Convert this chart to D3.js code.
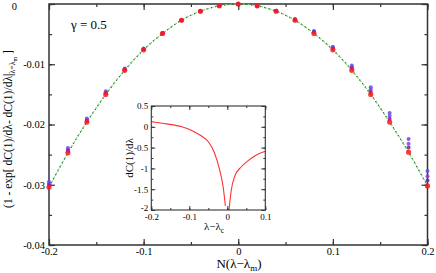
<!DOCTYPE html>
<html><head><meta charset="utf-8">
<script src="https://cdn.jsdelivr.net/npm/d3@7"></script>
<style>
body{margin:0;background:#fff;}
svg{display:block;}
svg text{font-family:"Liberation Serif","Times New Roman",serif;}
</style></head>
<body>
<script>
// ---- data ----
const xVals = [-0.20,-0.18,-0.16,-0.14,-0.12,-0.10,-0.08,-0.06,-0.04,-0.02,0,0.02,0.04,0.06,0.08,0.10,0.12,0.14,0.16,0.18,0.20];
const seriesRed = [-0.0304,-0.0247,-0.0196,-0.0150,-0.0110,-0.0076,-0.0049,-0.0027,-0.0012,-0.0003,0,-0.0003,-0.0012,-0.0027,-0.0049,-0.0076,-0.0110,-0.0150,-0.0196,-0.0246,-0.0302];
const seriesA = [-0.0295,-0.0239,-0.0190,-0.0145,-0.0107,-0.0074,-0.0048,-0.0027,-0.0012,-0.0003,0,-0.0003,-0.0011,-0.0025,-0.0045,-0.0071,-0.0102,-0.0138,-0.0181,-0.0224,-0.0277];
const seriesB = [-0.0298,-0.0242,-0.0192,-0.0147,-0.0108,-0.0075,-0.0048,-0.0027,-0.0012,-0.0003,0,-0.0003,-0.0011,-0.0026,-0.0046,-0.0073,-0.0105,-0.0142,-0.0186,-0.0232,-0.0286];
const seriesC = [-0.0301,-0.0244,-0.0194,-0.0148,-0.0109,-0.0075,-0.0049,-0.0027,-0.0012,-0.0003,0,-0.0003,-0.0012,-0.0026,-0.0047,-0.0074,-0.0107,-0.0146,-0.0191,-0.0238,-0.0293];
const xTicks = [-0.2,-0.1,0,0.1,0.2];
const yTicks = [0,-0.01,-0.02,-0.03,-0.04];
// inset curve
const insetLeftX = [-0.2,-0.19,-0.16,-0.12,-0.095,-0.07,-0.05,-0.035,-0.02,-0.011,-0.005];
const insetLeftY = [0.125,0.11,0.07,0.0,-0.08,-0.21,-0.36,-0.6,-1.04,-1.44,-1.9];
const insetRightX = [0.0045,0.0105,0.019,0.037,0.054,0.072,0.1];
const insetRightY = [-2.0,-1.52,-1.2,-0.96,-0.82,-0.70,-0.59];
const insetXTicks = [-0.2,-0.1,0,0.1];
const insetYTicks = [0.5,0,-0.5,-1,-1.5,-2];

const FF="Liberation Serif";
const W=436,H=273;
const svg=d3.select("body").append("svg").attr("width",W).attr("height",H);

const x=d3.scaleLinear().domain([-0.2,0.2]).range([49,427.5]);
const y=d3.scaleLinear().domain([-0.04,0]).range([245,4]);
const fmt=v=>String(v);
const axCol="#333";

function styleAxis(g,w){g.select(".domain").remove();g.attr("font-family",FF);g.selectAll("line").attr("stroke",axCol).attr("stroke-width",w);}

const xMinor=d3.range(-0.2,0.2001,0.05).map(v=>+v.toFixed(3));
const yMinor=d3.range(-0.04,0.0001,0.005).map(v=>+v.toFixed(4));
const tfMain=g=>g.selectAll("text").attr("font-size",10.5).attr("fill","#000").attr("font-family",FF);

// bottom
svg.append("g").attr("transform","translate(0,245)").call(d3.axisBottom(x).tickValues(xMinor).tickSize(-3).tickFormat("")).call(g=>styleAxis(g,1.2));
svg.append("g").attr("transform","translate(0,245)").call(d3.axisBottom(x).tickValues(xTicks).tickSize(-6).tickPadding(3).tickFormat(fmt))
  .call(g=>styleAxis(g,1.2)).call(tfMain);
// top
svg.append("g").attr("transform","translate(0,4)").call(d3.axisTop(x).tickValues(xMinor).tickSize(-3).tickFormat("")).call(g=>styleAxis(g,1.2));
svg.append("g").attr("transform","translate(0,4)").call(d3.axisTop(x).tickValues(xTicks).tickSize(-6).tickFormat("")).call(g=>styleAxis(g,1.2));
// left
svg.append("g").attr("transform","translate(49,0)").call(d3.axisLeft(y).tickValues(yMinor).tickSize(-3).tickFormat("")).call(g=>styleAxis(g,1.2));
svg.append("g").attr("transform","translate(49,0)").call(d3.axisLeft(y).tickValues(yTicks).tickSize(-6).tickPadding(4).tickFormat(fmt))
  .call(g=>styleAxis(g,1.2)).call(tfMain)
  .call(g=>g.selectAll(".tick").filter(d=>d===0).select("text").attr("x",-32).attr("dy","0.5em"));
// right
svg.append("g").attr("transform","translate(427.5,0)").call(d3.axisRight(y).tickValues(yMinor).tickSize(-3).tickFormat("")).call(g=>styleAxis(g,1.2));
svg.append("g").attr("transform","translate(427.5,0)").call(d3.axisRight(y).tickValues(yTicks).tickSize(-6).tickFormat("")).call(g=>styleAxis(g,1.2));
// frame
svg.append("rect").attr("x",49).attr("y",4).attr("width",427.5-49).attr("height",241).attr("fill","none").attr("stroke",axCol).attr("stroke-width",1.5);

// fit line through red series
const redData=xVals.map((v,i)=>[v,seriesRed[i]]);
const lineGen=d3.line().x(d=>x(d[0])).y(d=>y(d[1])).curve(d3.curveNatural);
svg.append("path").datum(redData).attr("d",lineGen).attr("fill","none").attr("stroke","#7ed07e").attr("stroke-width",1.2).attr("stroke-dasharray","3,1.5");
svg.append("path").datum(redData).attr("d",lineGen).attr("fill","none").attr("stroke","#1f6b1f").attr("stroke-width",1.2).attr("stroke-dasharray","1,3.5");

// points
const series=[{v:seriesA,c:"#5a4cf0",r:2},{v:seriesB,c:"#8a3ddc",r:2},{v:seriesC,c:"#6e22b8",r:2},{v:seriesRed,c:"#ff1a1a",r:2.6}];
series.forEach(s=>{
  svg.append("g").selectAll("circle").data(xVals.map((v,i)=>[v,s.v[i]])).join("circle")
    .attr("cx",d=>x(d[0])).attr("cy",d=>y(d[1])).attr("r",s.r).attr("fill",s.c).attr("fill-opacity",0.85);
});

// gamma text
svg.append("text").attr("x",71).attr("y",29).attr("font-size",13).attr("font-family",FF).text("γ = 0.5");

// axis labels
svg.append("text").attr("x",239).attr("y",268).attr("text-anchor","middle").attr("font-size",13).attr("font-family",FF)
  .call(t=>{t.append("tspan").text("N(λ−λ");t.append("tspan").attr("font-size",9).attr("dy",3).text("m");t.append("tspan").attr("dy",-3).text(")");});
svg.append("text").attr("transform","translate(12,129) rotate(-90)").attr("text-anchor","middle").attr("font-size",11.5).attr("font-family",FF)
  .call(t=>{t.append("tspan").text("(1 - exp[ dC(1)/dλ- dC(1)/dλ|");
    t.append("tspan").attr("font-size",8).attr("dy",3).text("λ=λ");
    t.append("tspan").attr("font-size",6).attr("dy",2).text("m");
    t.append("tspan").attr("dy",-5).text(" ]");});

// ---- inset ----
const ix=d3.scaleLinear().domain([-0.2,0.1]).range([151.3,265.3]);
const iy=d3.scaleLinear().domain([-2,0.5]).range([210,106]);
svg.append("rect").attr("x",151.3).attr("y",106).attr("width",114).attr("height",104).attr("fill","#fff");
svg.append("clipPath").attr("id","ic").append("rect").attr("x",151.3).attr("y",106).attr("width",114).attr("height",104);
const iline=d3.line().x(d=>ix(d[0])).y(d=>iy(d[1])).curve(d3.curveMonotoneX);
const g2=svg.append("g").attr("clip-path","url(#ic)");
g2.append("path").datum(insetLeftX.map((v,i)=>[v,insetLeftY[i]])).attr("d",iline).attr("fill","none").attr("stroke","#ff3030").attr("stroke-width",1.1);
g2.append("path").datum(insetRightX.map((v,i)=>[v,insetRightY[i]])).attr("d",iline).attr("fill","none").attr("stroke","#ff3030").attr("stroke-width",1.1);

const ixMinor=d3.range(-0.2,0.1001,0.05).map(v=>+v.toFixed(3));
const iyMinor=d3.range(-2,0.5001,0.25).map(v=>+v.toFixed(3));
const tf=g=>g.selectAll("text").attr("font-size",9).attr("fill","#000").attr("font-family",FF);
svg.append("g").attr("transform","translate(0,210)").call(d3.axisBottom(ix).tickValues(ixMinor).tickSize(-2).tickFormat("")).call(g=>styleAxis(g,1));
svg.append("g").attr("transform","translate(0,210)").call(d3.axisBottom(ix).tickValues(insetXTicks).tickSize(-4).tickPadding(4).tickFormat(fmt)).call(g=>styleAxis(g,1)).call(tf);
svg.append("g").attr("transform","translate(0,106)").call(d3.axisTop(ix).tickValues(ixMinor).tickSize(-2).tickFormat("")).call(g=>styleAxis(g,1));
svg.append("g").attr("transform","translate(0,106)").call(d3.axisTop(ix).tickValues(insetXTicks).tickSize(-4).tickFormat("")).call(g=>styleAxis(g,1));
svg.append("g").attr("transform","translate(151.3,0)").call(d3.axisLeft(iy).tickValues(iyMinor).tickSize(-2).tickFormat("")).call(g=>styleAxis(g,1));
svg.append("g").attr("transform","translate(151.3,0)").call(d3.axisLeft(iy).tickValues(insetYTicks).tickSize(-4).tickPadding(3).tickFormat(fmt)).call(g=>styleAxis(g,1)).call(tf)
  .call(g=>g.selectAll(".tick").filter(d=>d===-2).select("text").attr("dy","0.1em"));
svg.append("g").attr("transform","translate(265.3,0)").call(d3.axisRight(iy).tickValues(iyMinor).tickSize(-2).tickFormat("")).call(g=>styleAxis(g,1));
svg.append("g").attr("transform","translate(265.3,0)").call(d3.axisRight(iy).tickValues(insetYTicks).tickSize(-4).tickFormat("")).call(g=>styleAxis(g,1));
svg.append("rect").attr("x",151.3).attr("y",106).attr("width",114).attr("height",104).attr("fill","none").attr("stroke",axCol).attr("stroke-width",1.1);

svg.append("text").attr("x",214).attr("y",230).attr("text-anchor","middle").attr("font-size",11).attr("font-family",FF)
  .call(t=>{t.append("tspan").text("λ−λ");t.append("tspan").attr("font-size",7.5).attr("dy",2.5).text("c");});
svg.append("text").attr("transform","translate(133,158) rotate(-90)").attr("text-anchor","middle").attr("font-size",11).attr("font-family",FF).text("dC(1)/dλ");
</script>
</body></html>
